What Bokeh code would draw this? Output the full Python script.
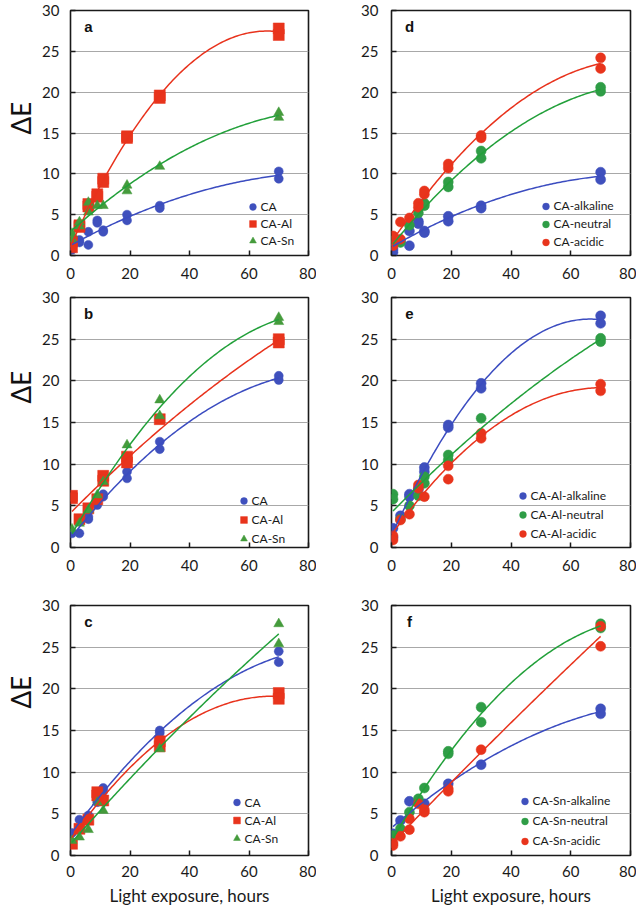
import numpy as np
from bokeh.plotting import figure
from bokeh.layouts import column, row
from bokeh.models import Legend, LegendItem, Label, FixedTicker, Range1d, Title
from bokeh.embed import file_html
from bokeh.resources import INLINE

# ---------------- data (ΔE vs light exposure, hours) ----------------
# panel a
a_ca_x = [0.5, 3, 3, 6, 6, 9, 9, 11, 11, 19, 19, 30, 30, 70, 70]
a_ca_y = [0.7, 1.9, 1.6, 2.9, 1.3, 4.3, 4.0, 3.1, 2.9, 5.0, 4.3, 6.1, 5.8, 10.3, 9.4]
a_al_x = [0.5, 0.5, 3, 3, 6, 6, 9, 9, 11, 11, 19, 19, 30, 30, 70, 70]
a_al_y = [1.7, 1.0, 3.7, 3.5, 6.3, 6.0, 7.5, 7.2, 9.4, 9.0, 14.6, 14.4, 19.6, 19.3, 27.8, 27.0]
a_sn_x = [0.5, 0.5, 3, 3, 6, 6, 9, 11, 19, 19, 30, 70, 70]
a_sn_y = [2.7, 2.0, 4.1, 3.6, 6.5, 5.3, 6.1, 6.1, 8.6, 7.9, 10.9, 17.5, 16.9]
# panel b
b_ca_x = [0.5, 3, 6, 6, 9, 11, 11, 19, 19, 30, 30, 70, 70]
b_ca_y = [1.7, 1.7, 3.7, 3.4, 5.1, 6.4, 6.1, 9.1, 8.3, 12.7, 11.8, 20.6, 20.1]
b_al_x = [0.5, 0.5, 3, 6, 9, 11, 11, 19, 19, 30, 70, 70]
b_al_y = [6.2, 5.9, 3.4, 4.7, 5.8, 8.6, 8.0, 10.9, 10.2, 15.4, 25.0, 24.6]
b_sn_x = [0.5, 3, 6, 9, 11, 19, 30, 30, 70, 70]
b_sn_y = [2.2, 2.9, 4.5, 6.3, 7.9, 12.3, 17.7, 15.8, 27.6, 27.1]
# panel c
c_ca_x = [0.5, 3, 6, 9, 11, 11, 30, 30, 70, 70]
c_ca_y = [2.7, 4.3, 4.8, 6.4, 8.1, 7.7, 15.0, 14.7, 24.5, 23.2]
c_al_x = [0.5, 3, 6, 9, 9, 11, 30, 30, 70, 70]
c_al_y = [1.4, 3.2, 4.3, 7.6, 7.2, 6.6, 13.7, 13.1, 19.5, 18.8]
c_sn_x = [0.5, 3, 6, 9, 11, 30, 70, 70]
c_sn_y = [1.8, 2.2, 3.1, 6.4, 5.4, 12.8, 27.8, 25.4]
# panel d
d_alk_x = [0.5, 0.5, 3, 6, 6, 9, 9, 11, 11, 19, 19, 30, 30, 70, 70]
d_alk_y = [0.8, 0.4, 1.8, 3.0, 1.2, 4.2, 3.9, 3.0, 2.8, 4.8, 4.2, 6.1, 5.8, 10.2, 9.3]
d_neu_x = [0.5, 3, 6, 9, 11, 11, 19, 19, 30, 30, 70, 70]
d_neu_y = [1.8, 1.6, 3.7, 5.2, 6.4, 6.1, 9.0, 8.4, 12.8, 11.9, 20.6, 20.1]
d_acid_x = [0.5, 0.5, 3, 3, 6, 9, 9, 11, 11, 19, 19, 30, 30, 70, 70]
d_acid_y = [2.4, 1.2, 4.1, 2.0, 4.6, 6.4, 5.9, 7.9, 7.5, 11.2, 10.7, 14.7, 14.4, 24.2, 22.9]
# panel e
e_alk_x = [0.5, 0.5, 3, 6, 6, 9, 11, 11, 19, 19, 30, 30, 70, 70]
e_alk_y = [2.3, 1.2, 3.8, 6.4, 6.1, 7.0, 9.6, 9.1, 14.7, 14.4, 19.7, 19.1, 27.8, 26.9]
e_neu_x = [0.5, 0.5, 3, 6, 9, 11, 11, 19, 19, 30, 70, 70]
e_neu_y = [6.4, 5.8, 3.4, 5.0, 6.2, 8.5, 7.7, 11.1, 10.5, 15.5, 25.1, 24.7]
e_acid_x = [0.5, 0.5, 3, 6, 9, 9, 11, 19, 19, 30, 30, 70, 70]
e_acid_y = [1.4, 0.9, 3.3, 4.0, 7.5, 7.1, 6.1, 9.8, 8.2, 13.7, 13.1, 19.6, 18.8]
# panel f
f_alk_x = [0.5, 3, 6, 11, 19, 30, 70, 70]
f_alk_y = [2.6, 4.2, 6.5, 6.2, 8.6, 10.9, 17.6, 17.0]
f_neu_x = [0.5, 3, 6, 9, 11, 19, 19, 30, 30, 70, 70]
f_neu_y = [2.4, 3.2, 5.2, 6.8, 8.1, 12.5, 12.2, 17.8, 16.0, 27.8, 27.3]
f_acid_x = [0.5, 0.5, 3, 6, 6, 9, 11, 11, 19, 19, 30, 70, 70]
f_acid_y = [1.5, 1.2, 2.3, 4.4, 3.1, 6.2, 5.5, 5.2, 8.0, 7.7, 12.7, 27.5, 25.1]

x_ticks = [0, 20, 40, 60, 80]
y_ticks = [0, 5, 10, 15, 20, 25, 30]
x_title = "Light exposure, hours"
y_title = "ΔE"

BLUE_M, BLUE_L = "#3f50bd", "#3b4cc0"
RED_M, RED_L = "#e8341c", "#e8321c"
GREEN_M1, GREEN_M2, GREEN_L = "#459b3c", "#2f9d46", "#22a03a"

FONT = "Lato"

panels = {
    "a": [("CA", a_ca_x, a_ca_y, "circle", BLUE_M, BLUE_L),
          ("CA-Al", a_al_x, a_al_y, "square", RED_M, RED_L),
          ("CA-Sn", a_sn_x, a_sn_y, "triangle", GREEN_M1, GREEN_L)],
    "b": [("CA", b_ca_x, b_ca_y, "circle", BLUE_M, BLUE_L),
          ("CA-Al", b_al_x, b_al_y, "square", RED_M, RED_L),
          ("CA-Sn", b_sn_x, b_sn_y, "triangle", GREEN_M1, GREEN_L)],
    "c": [("CA", c_ca_x, c_ca_y, "circle", BLUE_M, BLUE_L),
          ("CA-Al", c_al_x, c_al_y, "square", RED_M, RED_L),
          ("CA-Sn", c_sn_x, c_sn_y, "triangle", GREEN_M1, GREEN_L)],
    "d": [("CA-alkaline", d_alk_x, d_alk_y, "circle", BLUE_M, BLUE_L),
          ("CA-neutral", d_neu_x, d_neu_y, "circle", GREEN_M2, GREEN_L),
          ("CA-acidic", d_acid_x, d_acid_y, "circle", RED_M, RED_L)],
    "e": [("CA-Al-alkaline", e_alk_x, e_alk_y, "circle", BLUE_M, BLUE_L),
          ("CA-Al-neutral", e_neu_x, e_neu_y, "circle", GREEN_M2, GREEN_L),
          ("CA-Al-acidic", e_acid_x, e_acid_y, "circle", RED_M, RED_L)],
    "f": [("CA-Sn-alkaline", f_alk_x, f_alk_y, "circle", BLUE_M, BLUE_L),
          ("CA-Sn-neutral", f_neu_x, f_neu_y, "circle", GREEN_M2, GREEN_L),
          ("CA-Sn-acidic", f_acid_x, f_acid_y, "circle", RED_M, RED_L)],
}

# legend placement: (glyph centre from frame left, last row centre above frame bottom, row pitch)
legend_pos = {"a": (182, 15, 17), "b": (173, 9, 19), "c": (166, 17, 18),
              "d": (154, 13, 17.5), "e": (131, 14, 19), "f": (133, 14, 19.5)}
# ΔE label: start of text above the frame bottom (left column)
ylabel_offset = [121, 144, 147]

# (top border, frame height, bottom border) per row
row_dims = [(10, 245, 34), (8, 250, 34), (24, 250, 54)]


def make_panel(letter, col, r):
    top, fh, bottom = row_dims[r]
    if col == 0:
        left, fw, right = 70, 238, 8
    else:
        left, fw, right = 75, 239, 6
    p = figure(width=left + fw + right, height=top + fh + bottom,
               x_range=Range1d(0, 80), y_range=Range1d(0, 30),
               output_backend="svg", toolbar_location=None,
               min_border_left=left, min_border_right=right,
               min_border_top=top, min_border_bottom=bottom)
    p.outline_line_color = "#1a1a1a"
    p.outline_line_width = 1.6
    p.background_fill_color = "white"
    p.border_fill_color = "white"
    p.xgrid.visible = False
    p.ygrid.grid_line_color = "#a8a8a8"
    p.ygrid.grid_line_width = 1
    p.xaxis.ticker = FixedTicker(ticks=x_ticks)
    p.yaxis.ticker = FixedTicker(ticks=y_ticks)
    for ax in (p.xaxis[0], p.yaxis[0]):
        ax.axis_line_color = None
        ax.major_tick_in = 5
        ax.major_tick_out = 0
        ax.major_tick_line_color = "#1a1a1a"
        ax.major_tick_line_width = 1.5
        ax.minor_tick_line_color = None
        ax.major_label_text_font = FONT
        ax.major_label_text_font_size = "15px"
        ax.major_label_text_color = "#1a1a1a"
    p.xaxis.major_label_standoff = 12 if r < 2 else 10
    p.yaxis.major_label_standoff = 11 if col == 0 else 13
    if r == 2:
        p.xaxis.axis_label = x_title
        p.xaxis.axis_label_text_font = FONT
        p.xaxis.axis_label_text_font_size = "17px"
        p.xaxis.axis_label_text_font_style = "normal"
        p.xaxis.axis_label_text_color = "#1a1a1a"
        p.xaxis.axis_label_standoff = 5
    if col == 0:
        p.add_layout(Title(text=y_title, align="left", offset=ylabel_offset[r],
                           text_font=FONT, text_font_size="26px",
                           text_font_style="normal", text_color="#111111",
                           standoff=5), "left")

    items = []
    lines = []
    for name, xs, ys, marker, mcol, lcol in panels[letter]:
        if marker == "square":
            size = 11
        elif marker == "triangle":
            size = 10
        else:
            size = 9 if col == 0 else 10
        rr = p.scatter(xs, ys, marker=marker, size=size, fill_color=mcol,
                       line_color=mcol, line_width=0.5)
        items.append(LegendItem(label=name, renderers=[rr]))
        xa = np.asarray(xs, dtype=float)
        ya = np.asarray(ys, dtype=float)
        coef = np.polyfit(xa, ya, 2)
        xx = np.linspace(xa.min(), xa.max(), 120)
        lines.append((xx, np.polyval(coef, xx), lcol))
    for xx, yy, lcol in lines:
        p.line(xx, yy, line_color=lcol, line_width=1.5)

    gx, lastc, pitch = legend_pos[letter]
    gw = 17
    leg = Legend(items=items, location=(gx - gw / 2, lastc - pitch / 2),
                 padding=0, spacing=0, margin=0,
                 glyph_width=gw, glyph_height=int(round(pitch)),
                 label_height=int(round(pitch)), label_standoff=-2,
                 label_text_font=FONT, label_text_font_size="12px",
                 label_text_color="#1a1a1a",
                 background_fill_alpha=0, border_line_color=None)
    p.add_layout(leg)

    p.add_layout(Label(x=18, y=fh - 16, x_units="screen", y_units="screen",
                       text=letter, text_font="Liberation Sans",
                       text_font_style="bold", text_font_size="15px",
                       text_align="center", text_baseline="middle",
                       text_color="#111111"))
    return p


left_col = [make_panel(l, 0, i) for i, l in enumerate("abc")]
right_col = [make_panel(l, 1, i) for i, l in enumerate("def")]
layout = column(*[row(left_col[i], right_col[i]) for i in range(3)])

open("out.html", "w").write(file_html(layout, INLINE))
